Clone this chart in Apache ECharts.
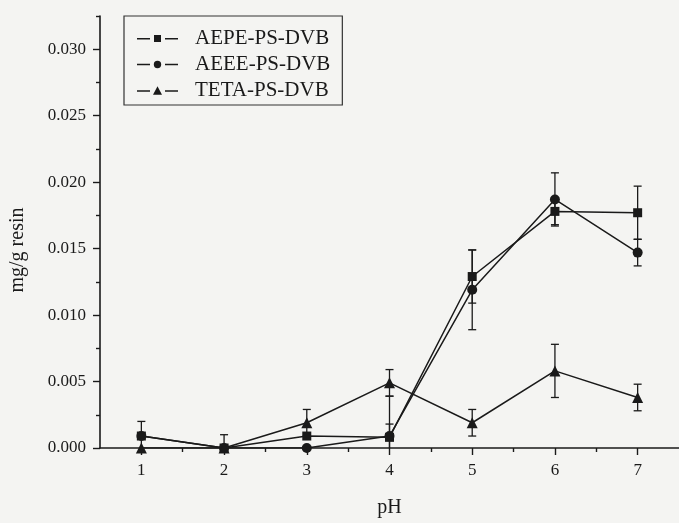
<!DOCTYPE html>
<html>
<head>
<meta charset="utf-8">
<script src="https://cdn.jsdelivr.net/npm/echarts@6/dist/echarts.min.js"></script>
<style>
  html, body { margin: 0; padding: 0; background: #f4f4f2; }
  #chart { width: 679px; height: 523px; }
</style>
</head>
<body>
<div id="chart"></div>
<script>
// pH values
const ph = [1, 2, 3, 4, 5, 6, 7];
const phMinor = [1.5, 2.5, 3.5, 4.5, 5.5, 6.5];
const yTicks = [0, 0.005, 0.010, 0.015, 0.020, 0.025, 0.030];
const yMinor = [0.0025, 0.0075, 0.0125, 0.0175, 0.0225, 0.0275, 0.0325];

// mg/g resin
const aepe = [0.0009, 0.0000, 0.0009, 0.0008, 0.0129, 0.0178, 0.0177];
const aepeErr = [0.0011, 0.0010, 0, 0.0010, 0.0020, 0.0010, 0.0020];
const aeee = [0.0009, 0.0000, 0.0000, 0.0009, 0.0119, 0.0187, 0.0147];
const aeeeErr = [0, 0, 0, 0.0030, 0.0030, 0.0020, 0.0010];
const teta = [0.0000, 0.0000, 0.0019, 0.0049, 0.0019, 0.0058, 0.0038];
const tetaErr = [0, 0, 0.0010, 0.0010, 0.0010, 0.0020, 0.0010];

const ink = '#1a1a1a';
const serif = '"Liberation Serif", "DejaVu Serif", serif';

// legend icons: dash - marker - dash
const dashes = 'M0,4H13V5.5H0Z M28,4H41V5.5H28Z ';
const iconRect = 'path://' + dashes + 'M17,1H24V8H17Z';
const iconCircle = 'path://' + dashes + 'M20.5,1A3.7,3.7,0,1,1,20.49,1Z';
const iconTri = 'path://' + dashes + 'M20.5,0L25,8.5H16Z';

const chart = echarts.init(document.getElementById('chart'));

function pts(vals) {
  return ph.map((x, i) => [x, vals[i]]);
}
function errPts(vals, errs) {
  const out = [];
  ph.forEach((x, i) => {
    if (errs[i] > 0) out.push([x, vals[i] - errs[i], vals[i] + errs[i]]);
  });
  return out;
}

// error bars drawn as vertical line + caps
function renderErr(params, api) {
  const top = api.coord([api.value(0), api.value(2)]);
  const bot = api.coord([api.value(0), api.value(1)]);
  const w = 4;
  const style = { stroke: ink, lineWidth: 1.3 };
  return {
    type: 'group',
    children: [
      { type: 'line', shape: { x1: top[0], y1: top[1], x2: bot[0], y2: bot[1] }, style },
      { type: 'line', shape: { x1: top[0] - w, y1: top[1], x2: top[0] + w, y2: top[1] }, style },
      { type: 'line', shape: { x1: bot[0] - w, y1: bot[1], x2: bot[0] + w, y2: bot[1] }, style }
    ]
  };
}

function lineSeries(name, vals, symbol, size) {
  return {
    name: name,
    type: 'line',
    data: pts(vals),
    symbol: symbol,
    symbolSize: size,
    itemStyle: { color: ink },
    lineStyle: { color: ink, width: 1.5 },
    z: 3
  };
}
function errSeries(vals, errs) {
  return {
    type: 'custom',
    data: errPts(vals, errs),
    renderItem: renderErr,
    clip: true,
    silent: true,
    z: 2
  };
}

const option = {
  backgroundColor: '#f4f4f2',
  animation: false,
  grid: { left: 100, right: 0, top: 16, bottom: 73 },
  legend: {
    orient: 'vertical',
    left: 124,
    top: 16,
    padding: [12, 12, 4, 13],
    itemGap: 5,
    itemWidth: 41,
    itemHeight: 9,
    borderColor: '#333',
    borderWidth: 1.2,
    textStyle: { fontFamily: serif, fontSize: 21, color: ink, padding: [0, 0, 0, 12] },
    data: [
      { name: 'AEPE-PS-DVB', icon: iconRect },
      { name: 'AEEE-PS-DVB', icon: iconCircle },
      { name: 'TETA-PS-DVB', icon: iconTri }
    ]
  },
  xAxis: [
    {
      type: 'value', min: 0.5, max: 7.5,
      position: 'bottom',
      name: 'pH', nameLocation: 'middle', nameGap: 50,
      nameTextStyle: { fontFamily: serif, fontSize: 20, color: ink },
      axisLine: { show: true, lineStyle: { color: ink, width: 1.6 } },
      axisTick: { show: true, customValues: ph, length: 7, lineStyle: { color: ink, width: 1.4 } },
      axisLabel: { customValues: ph, margin: 14, fontFamily: serif, fontSize: 17, color: ink },
      splitLine: { show: false }
    },
    {
      type: 'value', min: 0.5, max: 7.5,
      position: 'bottom', offset: 0,
      axisLine: { show: false },
      axisTick: { show: true, customValues: phMinor, length: 4, lineStyle: { color: ink, width: 1.4 } },
      axisLabel: { show: false },
      splitLine: { show: false }
    }
  ],
  yAxis: [
    {
      type: 'value', min: 0, max: 0.0325,
      position: 'left',
      axisLine: { show: true, lineStyle: { color: ink, width: 1.6 } },
      axisTick: { show: true, customValues: yTicks, length: 7, lineStyle: { color: ink, width: 1.4 } },
      axisLabel: {
        customValues: yTicks, margin: 14, fontFamily: serif, fontSize: 17, color: ink,
        formatter: v => v.toFixed(3)
      },
      splitLine: { show: false }
    },
    {
      type: 'value', min: 0, max: 0.0325,
      position: 'left', offset: 0,
      axisLine: { show: false },
      axisTick: { show: true, customValues: yMinor, length: 4, lineStyle: { color: ink, width: 1.4 } },
      axisLabel: { show: false },
      splitLine: { show: false }
    }
  ],
  graphic: [
    {
      type: 'text',
      x: 18, y: 250,
      rotation: Math.PI / 2,
      style: {
        text: 'mg/g resin',
        font: '20px ' + serif,
        fill: ink,
        align: 'center',
        verticalAlign: 'middle'
      }
    }
  ],
  series: [
    errSeries(aepe, aepeErr),
    errSeries(aeee, aeeeErr),
    errSeries(teta, tetaErr),
    lineSeries('AEPE-PS-DVB', aepe, 'rect', 9),
    lineSeries('AEEE-PS-DVB', aeee, 'circle', 10),
    lineSeries('TETA-PS-DVB', teta, 'triangle', 11)
  ]
};

chart.setOption(option);
</script>
</body>
</html>
